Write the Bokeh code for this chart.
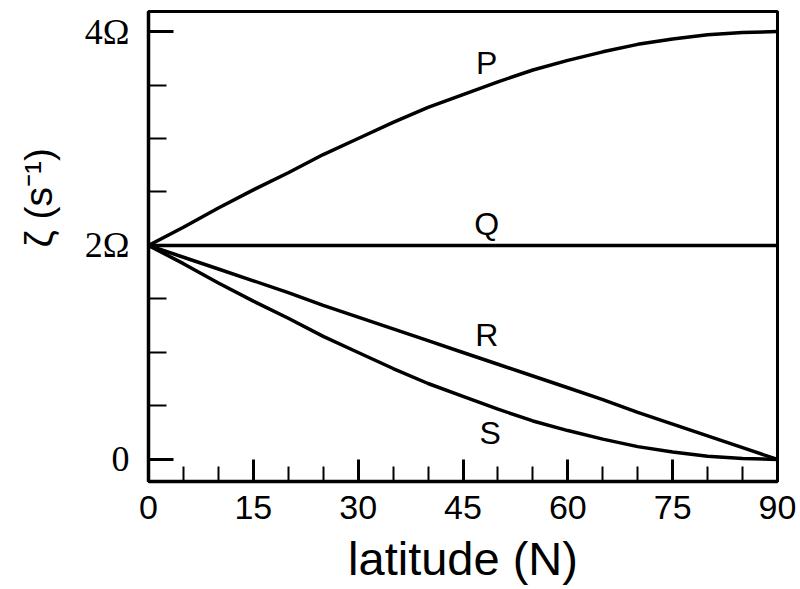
from bokeh.plotting import figure
from bokeh.models import FixedTicker, Range1d, ColumnDataSource
from bokeh.core.properties import value
from bokeh.embed import file_html
from bokeh.resources import INLINE

# ---- data (in units of Omega) ----
latitude = [0, 5, 10, 15, 20, 25, 30, 35, 40, 45, 50, 55, 60, 65, 70, 75, 80, 85, 90]
curve_P = [2.00, 2.17, 2.35, 2.52, 2.68, 2.85, 3.00, 3.15, 3.29, 3.41, 3.53, 3.64, 3.73, 3.81, 3.88, 3.93, 3.97, 3.99, 4.00]
curve_Q = [2.00] * 19
curve_R = [2.00, 1.89, 1.78, 1.67, 1.56, 1.44, 1.33, 1.22, 1.11, 1.00, 0.89, 0.78, 0.67, 0.56, 0.44, 0.33, 0.22, 0.11, 0.00]
curve_S = [2.00, 1.83, 1.65, 1.48, 1.32, 1.15, 1.00, 0.85, 0.71, 0.59, 0.47, 0.36, 0.27, 0.19, 0.12, 0.07, 0.03, 0.01, 0.00]

curve_names = ["P", "Q", "R", "S"]
x_ticks = [0, 15, 30, 45, 60, 75, 90]
x_minor = list(range(0, 91, 5))
y_ticks = [0, 2, 4]
y_tick_labels = {0: "0", 2: "2Ω", 4: "4Ω"}
y_minor = [0, 0.5, 1, 1.5, 2, 2.5, 3, 3.5, 4]
x_title = "latitude (N)"
y_title = "ζ (s⁻¹)"

# curve-name anchor positions (data units)
name_x = [48.4, 48.4, 48.4, 48.9]
name_y = [3.71, 2.20, 1.16, 0.25]

p = figure(width=800, height=589,
           x_range=Range1d(0, 90), y_range=Range1d(-0.206, 4.187),
           output_backend="svg", toolbar_location=None,
           min_border_left=148, min_border_right=23,
           min_border_top=11, min_border_bottom=108)

p.background_fill_color = "white"
p.border_fill_color = "white"
p.xgrid.visible = False
p.ygrid.visible = False
p.outline_line_color = "black"
p.outline_line_width = 3
p.outline_line_alpha = 1.0

for ys in (curve_P, curve_Q, curve_R, curve_S):
    p.line(latitude, ys, line_color="black", line_width=3.5)

src = ColumnDataSource(dict(x=name_x, y=name_y, t=curve_names))
p.text(x="x", y="y", text="t", source=src, text_font=value("Liberation Sans"),
       text_font_size="32px", text_align="center", text_baseline="alphabetic",
       text_color="black")

# x axis
xa = p.xaxis[0]
xa.ticker = FixedTicker(ticks=x_ticks, minor_ticks=x_minor)
xa.axis_label = x_title
xa.axis_label_text_font = "Liberation Sans"
xa.axis_label_text_font_size = "47px"
xa.axis_label_text_font_style = "normal"
xa.axis_label_text_color = "black"
xa.axis_label_standoff = 10
xa.major_label_text_font = "Liberation Sans"
xa.major_label_text_font_size = "34px"
xa.major_label_standoff = 14
xa.major_label_text_color = "black"
xa.axis_line_width = 3.5
xa.axis_line_color = "black"
xa.major_tick_in = 22
xa.major_tick_out = 0
xa.major_tick_line_width = 3
xa.minor_tick_in = 15
xa.minor_tick_out = 0
xa.minor_tick_line_width = 2

# y axis
ya = p.yaxis[0]
ya.ticker = FixedTicker(ticks=y_ticks, minor_ticks=y_minor)
ya.major_label_overrides = y_tick_labels
ya.major_label_text_font = "Liberation Serif"
ya.major_label_text_font_size = "36px"
ya.major_label_standoff = 19
ya.major_label_text_color = "black"
ya.axis_line_width = 3.5
ya.axis_line_color = "black"
ya.major_tick_in = 25
ya.major_tick_out = 0
ya.major_tick_line_width = 3
ya.minor_tick_in = 18
ya.minor_tick_out = 0
ya.minor_tick_line_width = 2
# leading no-break spaces move the visible title up along the axis
ya.axis_label = "\u00a0" * 9 + y_title
ya.axis_label_text_font = "Liberation Sans"
ya.axis_label_text_font_size = "39px"
ya.axis_label_text_font_style = "normal"
ya.axis_label_text_color = "black"
ya.axis_label_standoff = 22

open("out.html", "w").write(file_html(p, INLINE))
